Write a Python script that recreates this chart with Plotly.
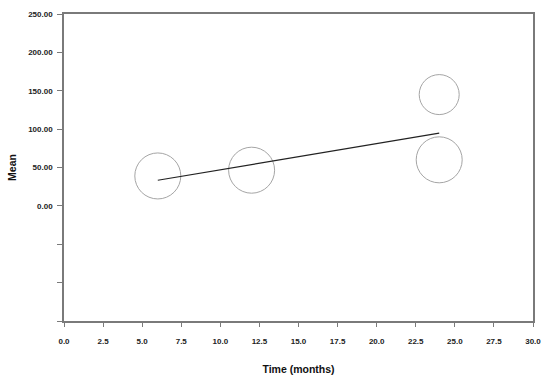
import plotly.graph_objects as go

# bubbles: mean at each time point, bubble weight (drawn as diameter)
time = [6, 12, 24, 24]
mean = [39, 46.5, 145, 60]
weight = [46, 46, 40, 46]

# fitted trend line
fit_time = [6, 24]
fit_mean = [33.4, 94.8]

ytick_vals = [-150, -100, -50, 0, 50, 100, 150, 200, 250]
ytick_text = ["" if v < 0 else f"{v:.2f}" for v in ytick_vals]
xtick_vals = [0, 2.5, 5, 7.5, 10, 12.5, 15, 17.5, 20, 22.5, 25, 27.5, 30]

AX = "#7a7a7a"

fig = go.Figure()
fig.add_trace(go.Scatter(
    x=time, y=mean, mode="markers",
    marker=dict(size=weight, sizemode="diameter", color="rgba(0,0,0,0)",
                line=dict(color="#808080", width=1)),
    showlegend=False, cliponaxis=False,
))
fig.add_trace(go.Scatter(
    x=fit_time, y=fit_mean, mode="lines",
    line=dict(color="#222222", width=1.2), showlegend=False,
))

tickfont = dict(family="Liberation Sans, Arial, sans-serif", size=8, color="#222")
fig.update_layout(
    width=550, height=381,
    margin=dict(l=64, r=17, t=14, b=60),
    plot_bgcolor="white", paper_bgcolor="white",
    font=dict(family="Liberation Sans, Arial, sans-serif", color="#111"),
    xaxis=dict(range=[0, 30], tickvals=xtick_vals, automargin=False,
               ticktext=[f"<b>{v:.1f}</b>" for v in xtick_vals],
               showgrid=False, zeroline=False, showline=True, linecolor=AX,
               linewidth=1.5, mirror=True, ticks="outside", ticklen=4,
               tickcolor=AX, tickfont=tickfont, ticklabelstandoff=8,
               title=dict(text="<b>Time (months)</b>", font=dict(size=10.5), standoff=20)),
    yaxis=dict(range=[-150, 250], tickvals=ytick_vals, automargin=False,
               ticktext=[f"<b>{t}</b>" if t else "" for t in ytick_text],
               showgrid=False, zeroline=False, showline=True, linecolor=AX,
               linewidth=1.5, mirror=True, ticks="outside", ticklen=5,
               tickcolor=AX, tickfont=tickfont, ticklabelstandoff=3,
               title=dict(text="<b>Mean</b>", font=dict(size=10.5), standoff=10)),
)

# page body has a default 8px margin; drop it so the figure sits at the window origin
fig.write_html("out.html", config={"displayModeBar": False},
               post_script="document.body.style.margin='0';")
